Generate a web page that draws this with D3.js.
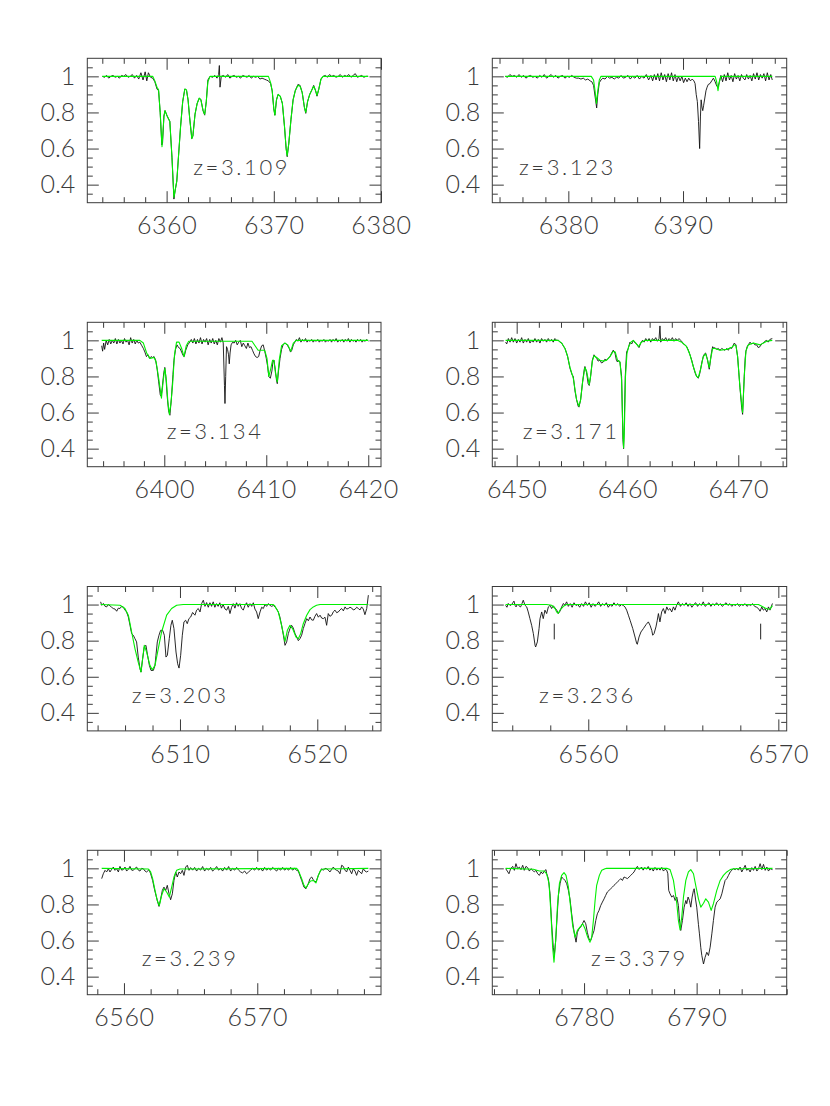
<!DOCTYPE html>
<html><head><meta charset="utf-8">
<script src="https://cdn.jsdelivr.net/npm/d3@7"></script>
<style>body{margin:0;background:#fff}</style>
</head><body>
<svg id="c" width="830" height="1106"></svg>
<script>
// ---------- data: observed spectra (black) and fitted models (green), [wavelength, normalised flux]
const spec1 = [[6354.0,1.00],[6354.2,0.995],[6354.4,1.005],[6354.6,0.99],[6354.8,1.0],[6355.0,1.005],[6355.2,0.995],[6355.4,1.0],[6355.6,0.99],[6355.8,1.005],[6356.0,1.0],[6356.2,1.01],[6356.4,0.995],[6356.6,1.0],[6356.8,1.01],[6357.0,0.99],[6357.2,1.005],[6357.4,0.985],[6357.6,1.02],[6357.8,0.98],[6358.0,1.025],[6358.15,0.975],[6358.3,1.02],[6358.5,0.995],[6358.7,0.99],
[6358.9,0.97],[6359.1,0.93],[6359.25,0.92],[6359.4,0.8],[6359.55,0.62],[6359.62,0.63],[6359.75,0.78],[6359.85,0.81],[6360.05,0.78],[6360.3,0.75],[6360.5,0.55],[6360.68,0.32],[6360.8,0.37],[6360.95,0.42],[6361.1,0.55],[6361.3,0.72],[6361.5,0.86],[6361.7,0.93],[6361.85,0.925],[6362.0,0.87],[6362.15,0.77],[6362.35,0.655],[6362.45,0.67],[6362.65,0.79],[6362.85,0.85],[6363.05,0.88],[6363.2,0.87],[6363.4,0.81],[6363.55,0.785],[6363.7,0.86],[6363.85,0.98],[6364.05,1.0],
[6364.3,0.995],[6364.5,1.005],[6364.7,0.99],[6364.85,1.01],[6364.92,1.06],[6364.98,0.94],[6365.1,1.0],[6365.3,1.005],[6365.5,0.995],[6365.7,1.01],[6365.9,0.99],[6366.1,1.0],[6366.3,1.005],[6366.5,0.995],[6366.7,1.0],[6366.9,0.99],[6367.1,1.005],[6367.3,1.0],[6367.5,0.995],[6367.7,1.005],[6367.9,0.99],[6368.1,1.0],[6368.3,0.995],[6368.5,1.0],[6368.7,0.985],[6368.9,0.99],[6369.1,0.985],[6369.3,0.98],
[6369.5,0.975],[6369.7,0.96],[6369.85,0.92],[6370.0,0.82],[6370.1,0.785],[6370.25,0.87],[6370.4,0.9],[6370.6,0.89],[6370.8,0.85],[6371.0,0.72],[6371.15,0.6],[6371.25,0.555],[6371.4,0.63],[6371.6,0.76],[6371.8,0.87],[6372.0,0.92],[6372.25,0.955],[6372.45,0.95],[6372.65,0.91],[6372.85,0.83],[6372.98,0.795],[6373.15,0.86],[6373.35,0.9],[6373.55,0.925],[6373.72,0.95],[6373.9,0.92],[6374.03,0.89],[6374.2,0.93],[6374.4,0.985],[6374.6,1.0],
[6374.8,1.005],[6375.0,0.995],[6375.2,1.01],[6375.4,1.0],[6375.6,1.005],[6375.8,0.995],[6376.0,1.0],[6376.2,1.01],[6376.4,0.995],[6376.6,1.005],[6376.8,1.0],[6377.0,1.01],[6377.2,0.995],[6377.4,1.005],[6377.6,1.015],[6377.8,0.995],[6378.0,1.0],[6378.2,1.005],[6378.4,0.995],[6378.6,1.0],[6378.8,1.0]];
const model1 = [[6354.0,1],[6358.7,1],[6358.9,0.975],[6359.1,0.94],[6359.25,0.925],[6359.4,0.8],[6359.57,0.61],[6359.75,0.78],[6359.85,0.81],[6360.05,0.78],[6360.3,0.75],[6360.5,0.55],[6360.68,0.33],[6360.8,0.37],[6360.95,0.42],[6361.1,0.55],[6361.3,0.72],[6361.5,0.86],[6361.7,0.93],[6361.85,0.925],[6362.0,0.87],[6362.15,0.77],[6362.35,0.655],[6362.45,0.67],[6362.65,0.79],[6362.85,0.85],[6363.05,0.88],[6363.2,0.87],[6363.4,0.81],[6363.55,0.79],[6363.7,0.86],[6363.85,0.97],[6364.05,1.0],[6369.5,1.0],[6369.7,0.965],[6369.85,0.92],[6370.0,0.82],[6370.1,0.785],[6370.25,0.87],[6370.4,0.9],[6370.6,0.89],[6370.8,0.85],[6371.0,0.72],[6371.15,0.6],[6371.25,0.56],[6371.4,0.63],[6371.6,0.76],[6371.8,0.87],[6372.0,0.92],[6372.25,0.95],[6372.45,0.945],[6372.65,0.91],[6372.85,0.83],[6372.98,0.80],[6373.15,0.86],[6373.35,0.9],[6373.55,0.925],[6373.72,0.945],[6373.9,0.92],[6374.03,0.895],[6374.2,0.93],[6374.4,0.985],[6374.6,1.0],[6378.8,1.0]];

const spec2 = [[6374.5,1.0],[6374.7,0.995],[6374.9,1.01],[6375.1,1.0],[6375.3,1.005],[6375.5,0.995],[6375.7,1.01],[6375.9,0.995],[6376.1,1.005],[6376.3,0.99],[6376.5,1.0],[6376.7,1.005],[6376.9,0.995],[6377.1,1.0],[6377.3,0.99],[6377.5,1.005],[6377.7,0.995],[6377.9,1.01],[6378.1,0.99],[6378.3,1.0],[6378.5,1.01],[6378.7,0.995],[6378.9,1.005],[6379.1,0.99],[6379.3,1.0],[6379.5,1.005],[6379.7,0.99],[6379.9,1.0],[6380.1,0.995],[6380.3,1.005],[6380.5,0.995],[6380.7,0.99],[6380.9,0.99],[6381.1,0.985],[6381.3,0.99],[6381.5,0.98],[6381.7,0.985],[6381.9,0.975],[6382.05,0.97],[6382.2,0.95],[6382.35,0.88],[6382.47,0.825],[6382.57,0.9],[6382.7,0.965],[6382.85,0.98],[6383.0,0.99],[6383.2,0.985],[6383.4,1.0],[6383.6,0.99],[6383.8,0.995],[6384.0,0.985],[6384.2,0.995],[6384.4,0.99],[6384.6,1.005],[6384.8,0.99],[6385.0,0.995],[6385.2,1.005],[6385.4,0.985],[6385.6,1.0],[6385.8,0.99],[6386.0,1.005],[6386.2,0.985],[6386.4,1.0],[6386.6,0.99],[6386.8,1.01],[6387.0,0.98],[6387.2,1.005],[6387.35,0.975],[6387.5,1.01],[6387.65,0.98],[6387.8,1.015],[6387.95,0.975],[6388.1,1.02],[6388.25,0.98],[6388.4,1.01],[6388.55,0.97],[6388.7,1.015],[6388.85,0.98],[6389.0,1.02],[6389.15,0.975],[6389.3,1.01],[6389.45,0.97],[6389.6,1.0],[6389.75,0.975],[6389.9,1.0],[6390.05,0.965],[6390.2,0.99],[6390.35,0.97],[6390.5,0.99],[6390.65,0.975],[6390.8,0.985],[6390.95,0.975],[6391.05,0.96],[6391.15,0.9],[6391.25,0.86],[6391.35,0.75],[6391.45,0.6],[6391.52,0.78],[6391.58,0.87],[6391.65,0.83],[6391.72,0.81],[6391.8,0.84],[6391.9,0.88],[6392.0,0.92],[6392.1,0.94],[6392.2,0.955],[6392.35,0.96],[6392.5,0.975],[6392.65,0.99],[6392.8,0.97],[6392.95,0.945],[6393.05,0.94],[6393.15,0.965],[6393.3,1.005],[6393.45,0.97],[6393.6,1.01],[6393.75,0.975],[6393.9,1.02],[6394.05,0.98],[6394.2,1.005],[6394.35,0.97],[6394.5,1.015],[6394.65,0.985],[6394.8,1.005],[6394.95,0.975],[6395.1,1.01],[6395.25,0.99],[6395.4,0.98],[6395.55,1.01],[6395.7,0.985],[6395.85,1.005],[6396.0,0.975],[6396.15,1.015],[6396.3,0.985],[6396.45,1.02],[6396.6,0.98],[6396.75,1.01],[6396.9,0.99],[6397.05,1.015],[6397.2,0.975],[6397.35,1.02],[6397.5,0.98],[6397.65,1.01],[6397.78,0.98]];
const model2 = [[6374.5,1],[6382.0,1],[6382.2,0.98],[6382.33,0.92],[6382.45,0.85],[6382.57,0.92],[6382.7,0.98],[6382.85,1],[6392.8,1],[6392.93,0.97],[6393.05,0.92],[6393.17,0.97],[6393.3,1],[6397.78,1]];

const spec3 = [[6393.86,0.97],[6393.95,0.94],[6394.05,0.985],[6394.15,0.95],[6394.3,1.0],[6394.45,0.975],[6394.6,1.005],[6394.75,0.98],[6394.9,1.0],[6395.05,0.985],[6395.2,1.01],[6395.35,0.98],[6395.5,1.005],[6395.65,0.985],[6395.8,1.0],[6395.95,0.98],[6396.1,1.01],[6396.25,0.99],[6396.4,1.0],[6396.55,0.975],[6396.7,1.015],[6396.85,0.985],[6397.0,1.005],[6397.15,0.98],[6397.3,1.0],[6397.45,0.985],[6397.6,0.99],[6397.8,0.97],[6397.95,0.955],[6398.1,0.935],[6398.25,0.91],[6398.4,0.92],[6398.55,0.9],[6398.7,0.91],[6398.85,0.905],[6399.0,0.91],[6399.15,0.89],[6399.3,0.84],[6399.45,0.77],[6399.6,0.70],[6399.7,0.69],[6399.82,0.75],[6399.95,0.82],[6400.05,0.85],[6400.15,0.8],[6400.3,0.68],[6400.42,0.61],[6400.55,0.585],[6400.7,0.68],[6400.85,0.81],[6400.95,0.89],[6401.1,0.95],[6401.25,0.975],[6401.4,0.96],[6401.55,0.955],[6401.7,0.935],[6401.85,0.915],[6401.95,0.91],[6402.1,0.945],[6402.3,0.975],[6402.5,0.99],
[6402.65,1.005],[6402.8,0.985],[6402.95,1.01],[6403.1,0.98],[6403.25,1.005],[6403.4,0.985],[6403.55,1.015],[6403.7,0.98],[6403.85,1.005],[6404.0,0.99],[6404.15,1.01],[6404.3,0.975],[6404.45,1.005],[6404.6,0.985],[6404.75,1.01],[6404.9,0.98],[6405.05,1.0],[6405.2,0.975],[6405.35,1.01],[6405.5,0.99],[6405.65,1.015],[6405.78,0.985],[6405.9,0.75],[6405.95,0.65],[6406.02,0.8],[6406.1,0.965],[6406.2,0.95],[6406.3,0.92],[6406.37,0.87],[6406.45,0.93],[6406.55,0.975],[6406.7,0.99],[6406.85,0.985],[6407.0,1.0],[6407.15,0.975],[6407.3,0.99],[6407.45,1.0],[6407.6,0.965],[6407.75,0.985],[6407.9,0.97],[6408.05,0.955],[6408.2,0.985],[6408.35,0.96],[6408.5,0.965],[6408.65,0.945],[6408.8,0.925],[6408.95,0.91],[6409.1,0.905],[6409.25,0.91],[6409.4,0.945],[6409.55,0.97],[6409.7,0.975],[6409.85,0.94],[6410.0,0.9],[6410.12,0.86],[6410.25,0.8],[6410.4,0.79],[6410.55,0.83],[6410.65,0.88],[6410.75,0.89],[6410.88,0.84],[6411.0,0.78],[6411.08,0.76],[6411.2,0.83],[6411.35,0.9],[6411.5,0.95],[6411.65,0.975],[6411.8,0.985],[6411.95,0.98],[6412.1,0.97],[6412.25,0.955],[6412.38,0.935],[6412.5,0.945],[6412.65,0.975],[6412.8,0.99],[6412.95,1.005],
[6413.1,0.995],[6413.25,1.015],[6413.4,0.99],[6413.55,1.005],[6413.7,0.995],[6413.85,1.01],[6414.0,0.99],[6414.15,1.0],[6414.3,0.995],[6414.45,1.005],[6414.6,0.99],[6414.75,1.0],[6414.9,0.995],[6415.05,1.005],[6415.2,0.99],[6415.35,1.0],[6415.5,0.995],[6415.65,1.005],[6415.8,0.99],[6415.95,1.0],[6416.1,0.995],[6416.25,1.005],[6416.4,0.99],[6416.55,1.005],[6416.7,0.995],[6416.85,1.01],[6417.0,0.99],[6417.15,1.0],[6417.3,0.995],[6417.45,1.005],[6417.6,0.99],[6417.75,1.005],[6417.9,0.995],[6418.05,1.01],[6418.2,0.99],[6418.35,1.005],[6418.5,0.995],[6418.65,1.0],[6418.8,0.99],[6418.95,1.005],[6419.1,0.995],[6419.25,1.005],[6419.4,0.99],[6419.55,1.0],[6419.7,0.995],[6419.85,1.005],[6420.0,0.995]];
const model3 = [[6393.86,1.0],[6397.6,1.0],[6397.95,0.985],[6398.27,0.93],[6398.6,0.9],[6399.0,0.905],[6399.2,0.88],[6399.45,0.79],[6399.72,0.68],[6399.9,0.78],[6400.05,0.845],[6400.2,0.78],[6400.35,0.66],[6400.5,0.59],[6400.65,0.65],[6400.82,0.76],[6401.0,0.92],[6401.2,0.99],[6401.45,0.99],[6401.7,0.955],[6401.93,0.91],[6402.15,0.97],[6402.4,0.995],[6408.6,0.995],[6408.9,0.97],[6409.2,0.945],[6409.85,0.945],[6410.07,0.9],[6410.25,0.8],[6410.45,0.845],[6410.62,0.89],[6410.75,0.89],[6410.9,0.82],[6411.08,0.77],[6411.27,0.89],[6411.5,0.97],[6411.83,0.985],[6412.1,0.975],[6412.4,0.94],[6412.65,0.985],[6412.95,1.0],[6420.0,1.0]];

const spec4 = [[6449.0,0.99],[6449.1,0.98],[6449.25,1.01],[6449.4,0.99],[6449.55,1.015],[6449.7,0.99],[6449.85,1.01],[6450.0,0.985],[6450.15,1.005],[6450.3,0.99],[6450.45,1.015],[6450.6,0.985],[6450.75,1.005],[6450.9,0.99],[6451.05,1.01],[6451.2,0.985],[6451.35,1.0],[6451.5,0.99],[6451.65,1.01],[6451.8,0.99],[6451.95,1.005],[6452.1,0.985],[6452.25,1.01],[6452.4,0.995],[6452.55,1.005],[6452.7,0.99],[6452.85,1.01],[6453.0,0.995],[6453.15,1.005],[6453.3,0.99],[6453.45,1.01],[6453.6,1.0],[6453.76,1.0],[6453.9,0.99],[6454.06,0.985],[6454.2,0.97],[6454.36,0.955],[6454.5,0.93],[6454.6,0.91],[6454.81,0.845],[6455.0,0.81],[6455.11,0.80],[6455.26,0.72],[6455.41,0.67],[6455.55,0.635],[6455.62,0.63],[6455.77,0.67],[6455.95,0.77],[6456.1,0.84],[6456.16,0.855],[6456.31,0.82],[6456.45,0.76],[6456.55,0.75],[6456.67,0.8],[6456.83,0.89],[6456.98,0.92],[6457.1,0.91],[6457.22,0.9],[6457.35,0.885],[6457.52,0.89],[6457.65,0.875],[6457.82,0.88],[6457.95,0.895],[6458.12,0.89],[6458.25,0.9],[6458.42,0.91],[6458.57,0.93],[6458.72,0.946],[6458.87,0.93],[6459.0,0.89],[6459.1,0.88],[6459.2,0.89],[6459.32,0.88],[6459.47,0.8],[6459.59,0.45],[6459.65,0.40],[6459.71,0.53],[6459.8,0.8],[6459.92,0.935],[6460.07,0.955],[6460.22,0.99],[6460.38,0.98],[6460.53,1.0],[6460.7,0.985],[6460.83,0.98],[6461.04,0.96],[6461.2,0.985],[6461.35,1.0],[6461.5,0.99],[6461.65,1.01],[6461.8,0.995],[6461.95,1.01],[6462.1,0.99],[6462.25,1.01],[6462.4,1.0],[6462.55,1.015],[6462.7,0.995],[6462.85,1.01],[6462.93,1.08],[6463.0,0.99],[6463.15,1.01],[6463.3,1.0],[6463.45,1.015],[6463.6,0.995],[6463.75,1.01],[6463.9,1.0],[6464.05,1.015],[6464.2,0.995],[6464.35,1.01],[6464.5,1.0],[6464.65,1.01],[6464.8,1.0],[6464.95,0.99],[6465.04,0.98],[6465.2,0.975],[6465.34,0.965],[6465.5,0.945],[6465.64,0.92],[6465.8,0.89],[6465.94,0.855],[6466.1,0.82],[6466.24,0.80],[6466.39,0.79],[6466.5,0.81],[6466.6,0.84],[6466.72,0.88],[6466.84,0.91],[6466.95,0.925],[6467.05,0.93],[6467.15,0.91],[6467.23,0.89],[6467.3,0.865],[6467.38,0.84],[6467.45,0.87],[6467.51,0.9],[6467.6,0.94],[6467.69,0.965],[6467.8,0.955],[6467.9,0.96],[6468.05,0.95],[6468.2,0.955],[6468.35,0.945],[6468.5,0.955],[6468.65,0.95],[6468.8,0.945],[6468.95,0.955],[6469.1,0.945],[6469.25,0.96],[6469.4,0.955],[6469.52,0.97],[6469.64,0.985],[6469.79,0.975],[6469.94,0.91],[6470.05,0.82],[6470.15,0.74],[6470.3,0.63],[6470.39,0.59],[6470.47,0.7],[6470.54,0.8],[6470.62,0.9],[6470.69,0.94],[6470.8,0.965],[6470.9,0.975],[6471.06,0.99],[6471.2,0.98],[6471.36,0.985],[6471.5,0.975],[6471.66,0.975],[6471.8,0.96],[6471.96,0.965],[6472.1,0.98],[6472.26,0.985],[6472.4,0.995],[6472.56,1.0],[6472.7,0.99],[6472.85,1.005],[6473.07,1.01]];
const model4 = [[6449.0,1.0],[6453.76,1.0],[6454.06,0.985],[6454.36,0.955],[6454.6,0.91],[6454.81,0.85],[6455.11,0.79],[6455.41,0.67],[6455.62,0.635],[6455.77,0.67],[6455.95,0.77],[6456.16,0.85],[6456.31,0.83],[6456.55,0.755],[6456.67,0.8],[6456.83,0.885],[6456.98,0.915],[6457.22,0.905],[6457.52,0.89],[6457.82,0.885],[6458.12,0.89],[6458.42,0.91],[6458.72,0.94],[6458.9,0.935],[6459.1,0.89],[6459.32,0.88],[6459.47,0.78],[6459.58,0.5],[6459.65,0.405],[6459.72,0.5],[6459.82,0.8],[6459.95,0.925],[6460.1,0.965],[6460.3,0.99],[6460.53,1.0],[6460.75,0.985],[6461.0,0.965],[6461.25,0.99],[6461.6,1.0],[6464.5,1.0],[6464.9,0.99],[6465.34,0.965],[6465.64,0.92],[6465.94,0.855],[6466.24,0.80],[6466.39,0.795],[6466.6,0.84],[6466.84,0.91],[6467.05,0.925],[6467.23,0.89],[6467.38,0.85],[6467.51,0.9],[6467.69,0.955],[6467.9,0.955],[6468.35,0.945],[6468.95,0.95],[6469.4,0.96],[6469.64,0.975],[6469.79,0.97],[6469.94,0.91],[6470.15,0.74],[6470.39,0.6],[6470.54,0.8],[6470.69,0.94],[6470.9,0.975],[6471.36,0.985],[6471.96,0.975],[6472.56,0.995],[6473.07,1.0]];

const spec5 = [[6504.22,1.015],[6504.3,0.996],[6504.42,1.006],[6504.55,0.99],[6504.66,0.987],[6504.78,1.0],[6504.9,0.993],[6505.02,0.985],[6505.14,0.978],[6505.27,0.975],[6505.39,0.963],[6505.51,0.98],[6505.63,0.978],[6505.75,0.99],[6505.87,0.987],[6505.99,0.97],[6506.11,0.959],[6506.24,0.931],[6506.36,0.885],[6506.48,0.839],[6506.6,0.83],[6506.72,0.811],[6506.84,0.793],[6506.96,0.709],[6507.09,0.644],[6507.16,0.626],[6507.28,0.70],[6507.4,0.765],[6507.52,0.774],[6507.64,0.719],[6507.77,0.663],[6507.89,0.635],[6508.06,0.635],[6508.18,0.663],[6508.25,0.719],[6508.35,0.793],[6508.47,0.83],[6508.59,0.857],[6508.74,0.857],[6508.86,0.83],[6508.98,0.709],[6509.08,0.719],[6509.22,0.811],[6509.34,0.885],[6509.44,0.913],[6509.56,0.867],[6509.71,0.737],[6509.83,0.672],[6509.93,0.648],[6510.05,0.719],[6510.17,0.83],[6510.29,0.904],[6510.41,0.913],[6510.53,0.894],[6510.65,0.922],[6510.78,0.931],[6510.92,0.956],[6511.09,0.941],[6511.21,0.969],[6511.33,0.978],[6511.46,0.959],[6511.58,1.006],[6511.7,1.024],[6511.82,0.99],[6511.94,1.011],
[6512.06,0.985],[6512.18,1.01],[6512.3,0.99],[6512.42,1.015],[6512.54,0.985],[6512.66,1.005],[6512.78,0.99],[6512.9,1.01],[6513.02,0.98],[6513.14,1.0],[6513.28,0.975],[6513.4,0.969],[6513.52,0.99],[6513.64,0.95],[6513.76,0.985],[6513.88,1.005],[6514.0,0.98],[6514.12,1.01],[6514.24,0.99],[6514.36,1.005],[6514.48,0.98],[6514.61,0.969],[6514.73,0.995],[6514.85,1.01],[6514.97,0.985],[6515.1,1.005],[6515.22,0.99],[6515.34,1.01],[6515.46,0.975],[6515.58,0.959],[6515.7,0.922],[6515.83,0.959],[6515.95,0.985],[6516.07,0.978],[6516.19,1.0],[6516.31,0.99],[6516.43,1.005],[6516.55,0.996],[6516.67,0.99],[6516.8,0.995],
[6516.92,0.987],[6517.04,0.975],[6517.16,0.959],[6517.28,0.93],[6517.4,0.885],[6517.53,0.83],[6517.65,0.774],[6517.77,0.793],[6517.89,0.839],[6518.01,0.867],[6518.13,0.885],[6518.25,0.87],[6518.38,0.839],[6518.5,0.82],[6518.62,0.80],[6518.74,0.811],[6518.86,0.83],[6518.98,0.867],[6519.1,0.894],[6519.23,0.922],[6519.35,0.91],[6519.47,0.931],[6519.59,0.915],[6519.71,0.913],[6519.83,0.935],[6519.95,0.95],[6520.08,0.93],[6520.2,0.941],[6520.32,0.925],[6520.44,0.922],[6520.56,0.93],[6520.68,0.885],[6520.8,0.95],[6520.92,0.935],[6521.05,0.941],[6521.17,0.96],[6521.29,0.969],[6521.41,0.955],[6521.53,0.959],[6521.65,0.97],[6521.77,0.978],[6521.9,0.965],[6522.02,0.987],[6522.14,0.975],[6522.26,0.978],[6522.38,0.985],[6522.5,0.981],[6522.62,0.97],[6522.75,0.974],[6522.87,0.985],[6522.99,0.978],[6523.11,0.97],[6523.23,0.987],[6523.35,0.975],[6523.47,0.944],[6523.6,0.978],[6523.72,1.052]];
const model5 = [[6504.22,1.0],[6505.63,0.996],[6505.99,0.978],[6506.24,0.941],[6506.48,0.848],[6506.72,0.756],[6506.96,0.681],[6507.16,0.626],[6507.28,0.70],[6507.4,0.774],[6507.57,0.737],[6507.81,0.663],[6507.98,0.639],[6508.18,0.663],[6508.42,0.756],[6508.66,0.848],[6509.03,0.941],[6509.39,0.978],[6509.76,0.996],[6510.24,1.0],[6516.8,1.0],[6516.92,0.991],[6517.16,0.959],[6517.4,0.885],[6517.65,0.796],[6517.82,0.857],[6518.01,0.885],[6518.2,0.867],[6518.45,0.82],[6518.62,0.811],[6518.79,0.839],[6518.98,0.894],[6519.23,0.941],[6519.47,0.972],[6519.71,0.987],[6519.95,0.996],[6520.2,1.0],[6523.72,1.0]];

const spec6 = [[6555.65,0.996],[6555.72,0.985],[6555.79,1.006],[6555.88,0.995],[6555.97,1.0],[6556.03,1.01],[6556.09,1.019],[6556.15,0.995],[6556.2,0.987],[6556.26,1.0],[6556.32,1.0],[6556.38,0.99],[6556.44,0.987],[6556.51,1.005],[6556.58,1.024],[6556.67,0.996],[6556.76,0.987],[6556.84,0.959],[6556.93,0.922],[6557.02,0.885],[6557.11,0.839],[6557.2,0.774],[6557.23,0.765],[6557.32,0.793],[6557.41,0.867],[6557.46,0.922],[6557.55,0.959],[6557.63,0.922],[6557.72,0.969],[6557.81,0.95],[6557.9,0.987],[6557.99,0.996],[6558.07,0.978],[6558.16,0.993],[6558.25,0.981],[6558.34,0.969],[6558.42,0.95],[6558.51,0.963],[6558.6,0.987],[6558.69,1.006],[6558.77,0.996],[6558.86,1.015],
[6558.95,0.99],[6559.05,1.005],[6559.15,0.985],[6559.25,1.01],[6559.35,0.995],[6559.45,1.0],[6559.55,0.985],[6559.65,1.005],[6559.75,0.99],[6559.85,1.015],[6559.95,0.995],[6560.05,1.01],[6560.15,0.985],[6560.25,1.005],[6560.35,0.99],[6560.45,1.0],[6560.55,1.015],[6560.65,0.99],[6560.75,1.005],[6560.85,0.995],[6560.95,1.01],[6561.05,0.985],[6561.15,1.0],[6561.25,0.99],[6561.35,1.01],[6561.45,0.995],[6561.55,1.005],[6561.65,0.99],[6561.75,1.0],[6561.84,0.995],
[6561.93,0.987],[6562.02,0.969],[6562.11,0.941],[6562.2,0.913],[6562.34,0.867],[6562.46,0.82],[6562.55,0.783],[6562.58,0.78],[6562.67,0.82],[6562.77,0.848],[6562.9,0.867],[6563.04,0.889],[6563.16,0.904],[6563.25,0.885],[6563.34,0.857],[6563.39,0.83],[6563.46,0.839],[6563.56,0.876],[6563.63,0.913],[6563.69,0.95],[6563.77,0.904],[6563.86,0.959],[6563.95,0.978],[6564.04,0.95],[6564.13,0.987],[6564.21,0.969],[6564.3,0.978],[6564.39,0.959],[6564.48,0.987],[6564.56,0.969],[6564.65,0.996],[6564.74,1.015],
[6564.85,0.99],[6564.95,1.005],[6565.05,0.995],[6565.15,1.01],[6565.25,0.99],[6565.35,1.005],[6565.45,0.985],[6565.55,1.0],[6565.65,1.01],[6565.75,0.99],[6565.85,1.005],[6565.95,0.995],[6566.05,1.015],[6566.15,0.99],[6566.25,1.0],[6566.35,1.01],[6566.45,0.99],[6566.55,1.005],[6566.65,0.995],[6566.75,1.01],[6566.85,0.995],[6566.95,1.005],[6567.05,0.99],[6567.15,1.0],[6567.25,1.01],[6567.35,0.995],[6567.45,1.005],[6567.55,0.99],[6567.65,1.0],[6567.75,0.995],[6567.85,1.005],[6567.95,0.99],[6568.05,1.0],[6568.15,0.995],[6568.25,1.005],[6568.35,0.99],[6568.45,1.0],[6568.55,0.995],[6568.65,1.005],[6568.75,0.99],[6568.86,0.985],
[6568.95,0.978],[6569.04,0.963],[6569.13,0.987],[6569.21,0.969],[6569.3,0.978],[6569.39,0.959],[6569.48,0.987],[6569.56,0.969],[6569.69,1.006]];
const model6 = [[6555.65,1.0],[6557.81,1.0],[6558.07,0.996],[6558.25,0.978],[6558.34,0.958],[6558.42,0.952],[6558.51,0.969],[6558.69,0.99],[6558.86,1.0],[6568.95,1.0],[6569.13,0.99],[6569.3,0.981],[6569.45,0.975],[6569.56,0.974],[6569.69,0.994]];
const markers6 = [6558.21, 6569.07];
const markerSpan = [0.807, 0.894];

const spec7 = [[6558.33,0.943],[6558.45,0.97],[6558.58,0.989],[6558.7,0.98],[6558.83,0.998],[6558.95,0.98],[6559.08,0.995],[6559.2,1.007],[6559.33,0.989],[6559.45,0.998],[6559.58,0.98],[6559.7,1.011],[6559.83,0.99],[6559.95,0.993],[6560.08,1.007],[6560.2,0.985],[6560.33,0.995],[6560.45,1.011],[6560.58,0.99],[6560.7,0.989],[6560.83,1.0],[6560.95,1.007],[6561.08,0.99],[6561.2,0.985],[6561.33,1.0],[6561.45,0.998],[6561.58,0.985],[6561.7,0.98],[6561.88,0.993],[6562.0,0.97],[6562.15,0.933],[6562.28,0.887],[6562.4,0.85],[6562.53,0.813],[6562.63,0.789],[6562.75,0.831],[6562.88,0.878],[6563.0,0.896],[6563.13,0.878],[6563.25,0.906],[6563.38,0.859],[6563.5,0.826],[6563.63,0.859],[6563.75,0.933],[6563.88,0.98],[6564.0,0.952],[6564.13,0.98],[6564.25,0.97],[6564.38,0.989],[6564.5,0.961],[6564.63,1.007],[6564.75,1.017],[6564.88,0.989],[6565.0,1.004],
[6565.15,0.99],[6565.3,1.005],[6565.45,0.985],[6565.6,1.0],[6565.75,0.99],[6565.9,1.01],[6566.05,0.985],[6566.2,1.0],[6566.35,0.99],[6566.5,1.005],[6566.65,0.985],[6566.8,0.995],[6566.95,1.01],[6567.1,0.99],[6567.25,1.0],[6567.4,0.985],[6567.55,1.005],[6567.7,0.99],[6567.85,1.01],[6568.0,0.985],[6568.15,1.0],[6568.3,0.99],[6568.45,1.005],[6568.6,0.99],[6568.75,0.98],[6568.9,0.975],[6569.05,0.985],[6569.2,0.97],[6569.35,0.98],[6569.5,0.99],[6569.65,1.0],[6569.8,0.99],[6569.95,1.005],[6570.1,0.99],[6570.25,1.0],[6570.4,0.985],[6570.55,1.005],[6570.7,0.99],[6570.85,1.0],[6571.0,0.99],[6571.15,1.005],[6571.3,0.995],[6571.45,0.985],[6571.6,1.0],[6571.75,0.99],[6571.9,1.005],[6572.05,0.99],[6572.2,1.0],[6572.35,0.99],[6572.5,1.005],[6572.65,0.99],[6572.8,1.0],[6572.95,0.989],
[6573.08,0.985],[6573.15,0.97],[6573.33,0.933],[6573.5,0.896],[6573.65,0.887],[6573.83,0.915],[6573.95,0.943],[6574.08,0.952],[6574.2,0.937],[6574.33,0.924],[6574.45,0.933],[6574.58,0.961],[6574.7,0.98],[6574.83,0.998],[6574.95,0.989],[6575.08,1.0],[6575.2,0.998],[6575.33,0.99],[6575.45,0.98],[6575.58,0.995],[6575.7,1.007],[6575.83,0.995],[6575.95,0.989],[6576.08,0.985],[6576.2,0.97],[6576.33,1.017],[6576.45,1.011],[6576.58,0.99],[6576.7,0.98],[6576.83,1.007],[6576.95,0.99],[6577.08,0.97],[6577.2,0.998],[6577.33,0.985],[6577.45,0.961],[6577.58,0.989],[6577.7,0.98],[6577.83,0.97],[6577.95,0.998],[6578.08,0.985],[6578.2,0.98],[6578.33,0.985]];
const model7 = [[6558.33,1.0],[6561.83,0.996],[6562.0,0.98],[6562.15,0.943],[6562.33,0.878],[6562.5,0.822],[6562.65,0.794],[6562.83,0.85],[6563.0,0.887],[6563.2,0.869],[6563.4,0.841],[6563.58,0.896],[6563.75,0.952],[6563.95,0.989],[6564.2,0.996],[6572.95,1.0],[6573.08,0.989],[6573.33,0.943],[6573.5,0.906],[6573.65,0.891],[6573.83,0.915],[6574.0,0.93],[6574.2,0.933],[6574.4,0.919],[6574.58,0.961],[6574.75,0.989],[6574.95,0.996],[6578.33,1.0]];

const spec8 = [[6773.04,0.998],[6773.18,0.985],[6773.33,0.97],[6773.48,0.998],[6773.66,1.011],[6773.81,0.989],[6773.95,1.026],[6774.1,0.998],[6774.25,1.007],[6774.4,0.993],[6774.55,1.017],[6774.69,0.989],[6774.84,1.011],[6774.99,1.004],[6775.14,0.985],[6775.29,0.998],[6775.44,0.989],[6775.58,0.98],[6775.73,0.989],[6775.88,0.97],[6776.03,0.961],[6776.18,0.98],[6776.32,0.97],[6776.47,0.985],[6776.62,0.993],[6776.68,0.97],[6776.83,0.943],[6776.98,0.859],[6777.12,0.693],[6777.27,0.56],[6777.36,0.52],[6777.48,0.6],[6777.57,0.693],[6777.72,0.85],[6777.87,0.915],[6778.01,0.952],[6778.16,0.943],[6778.31,0.933],[6778.46,0.915],[6778.61,0.878],[6778.75,0.831],[6778.9,0.748],[6779.05,0.674],[6779.2,0.619],[6779.29,0.591],[6779.41,0.646],[6779.55,0.665],[6779.7,0.674],[6779.85,0.693],[6780.0,0.711],[6780.15,0.693],[6780.29,0.646],[6780.44,0.609],[6780.59,0.6],[6780.74,0.628],[6780.89,0.656],[6781.04,0.711],[6781.18,0.748],[6781.33,0.767],[6781.48,0.794],[6781.63,0.813],[6781.78,0.831],[6781.92,0.85],[6782.07,0.869],[6782.22,0.878],[6782.37,0.887],[6782.52,0.896],[6782.66,0.906],[6782.81,0.915],[6782.96,0.924],[6783.11,0.933],[6783.26,0.943],[6783.41,0.933],[6783.55,0.952],[6783.7,0.948],[6783.85,0.943],[6784.0,0.952],[6784.15,0.961],[6784.29,0.97],[6784.44,0.98],[6784.59,0.998],[6784.74,1.011],[6784.86,0.995],[6784.98,0.998],[6785.1,1.007],
[6785.25,0.99],[6785.4,1.005],[6785.55,0.995],[6785.7,1.01],[6785.85,0.99],[6786.0,1.0],[6786.15,0.985],[6786.3,1.005],[6786.46,0.99],[6786.6,1.0],[6786.75,0.99],[6786.9,1.005],[6787.05,0.985],[6787.2,0.995],[6787.35,0.989],
[6787.44,0.97],[6787.52,0.878],[6787.64,0.859],[6787.79,0.841],[6787.94,0.85],[6788.09,0.822],[6788.24,0.841],[6788.38,0.794],[6788.47,0.72],[6788.59,0.656],[6788.74,0.711],[6788.89,0.785],[6789.04,0.822],[6789.12,0.804],[6789.24,0.841],[6789.36,0.822],[6789.48,0.785],[6789.6,0.841],[6789.72,0.878],[6789.78,0.887],[6789.9,0.83],[6790.01,0.785],[6790.16,0.69],[6790.25,0.637],[6790.37,0.56],[6790.46,0.517],[6790.61,0.47],[6790.75,0.507],[6790.9,0.535],[6791.05,0.517],[6791.2,0.563],[6791.35,0.637],[6791.49,0.711],[6791.64,0.785],[6791.79,0.813],[6791.94,0.822],[6792.09,0.831],[6792.24,0.859],[6792.38,0.896],[6792.53,0.933],[6792.68,0.943],[6792.83,0.961],[6792.98,0.98],[6793.13,0.989],[6793.27,0.998],[6793.42,0.993],
[6793.56,1.0],[6793.71,0.99],[6793.86,1.007],[6794.01,0.98],[6794.16,0.998],[6794.31,1.017],[6794.45,0.989],[6794.6,0.998],[6794.75,0.98],[6794.9,1.004],[6795.05,0.989],[6795.2,1.011],[6795.35,0.985],[6795.5,0.998],[6795.64,1.026],[6795.79,0.993],[6795.94,1.022],[6796.09,0.989],[6796.24,1.007],[6796.38,0.985],[6796.53,0.998],[6796.74,0.993]];
const model8 = [[6773.04,1.0],[6775.5,0.995],[6776.03,0.985],[6776.47,0.985],[6776.68,0.97],[6776.89,0.915],[6777.06,0.748],[6777.21,0.563],[6777.33,0.48],[6777.48,0.6],[6777.63,0.785],[6777.81,0.915],[6778.01,0.961],[6778.22,0.976],[6778.4,0.961],[6778.61,0.896],[6778.81,0.785],[6778.99,0.683],[6779.2,0.619],[6779.41,0.656],[6779.64,0.674],[6779.88,0.693],[6780.09,0.665],[6780.32,0.619],[6780.53,0.591],[6780.68,0.619],[6780.83,0.711],[6780.98,0.822],[6781.12,0.906],[6781.36,0.961],[6781.57,0.989],[6781.86,0.998],[6782.0,1.0],[6787.35,1.0],[6787.64,0.993],[6787.94,0.933],[6788.24,0.804],[6788.38,0.711],[6788.53,0.659],[6788.68,0.73],[6788.83,0.841],[6789.04,0.933],[6789.27,0.98],[6789.48,0.993],[6789.72,0.97],[6789.95,0.896],[6790.16,0.831],[6790.37,0.785],[6790.61,0.807],[6790.81,0.831],[6791.05,0.813],[6791.29,0.767],[6791.49,0.804],[6791.79,0.878],[6792.09,0.933],[6792.38,0.961],[6792.68,0.98],[6792.98,0.993],[6793.27,0.998],[6796.74,1.0]];

// panel axes / labels
const xDomains = [[6352.6,6380.0],[6373.37,6399.04],[6392.45,6421.25],[6447.8,6474.37],[6503.25,6524.64],[6554.95,6570.44],[6557.25,6579.28],[6771.85,6798.0]];
const yDomain = [0.3, 1.1];
const zLabels = ["z=3.109","z=3.123","z=3.134","z=3.171","z=3.203","z=3.236","z=3.239","z=3.379"];
const zLabelAt = [[6362.48,0.453],[6375.70,0.453],[6400.23,0.452],[6450.54,0.452],[6506.48,0.453],[6557.41,0.453],[6561.33,0.459],[6780.62,0.459]];
const yMajor = [0.4, 0.6, 0.8, 1];
const yMinor = [0.35, 0.45, 0.5, 0.55, 0.65, 0.7, 0.75, 0.85, 0.9, 0.95, 1.05];
const spectra = [spec1,spec2,spec3,spec4,spec5,spec6,spec7,spec8];
const models = [model1,model2,model3,model4,model5,model6,model7,model8];

// ---------- layout
const colX = [[87.3,381.0],[492.3,786.7]];
const rowTop = [58.3,322.3,586.5,850.3];
const panelH = 144.4;
const MAJ = 11.5, MIN = 5.5;
const FONT = "Lato, 'Liberation Sans', 'DejaVu Sans', sans-serif";
const ink = "#3a3a3a";

const svg = d3.select("#c");
svg.append("rect").attr("width",830).attr("height",1106).attr("fill","#fff");

spectra.forEach((spec, i) => {
  const col = i % 2, row = Math.floor(i / 2);
  const x = d3.scaleLinear().domain(xDomains[i]).range(colX[col]);
  const y = d3.scaleLinear().domain(yDomain).range([rowTop[row] + panelH, rowTop[row]]);
  const g = svg.append("g");
  const [a, b] = xDomains[i];
  const xMaj = d3.range(Math.ceil(a / 10) * 10, b + 1e-6, 10);
  const xMin = d3.range(Math.ceil(a / 2) * 2, b + 1e-6, 2).filter(v => v % 10 !== 0);
  const top = rowTop[row], bot = rowTop[row] + panelH;
  const L = colX[col][0], R = colX[col][1];

  const line = d3.line().x(d => x(d[0])).y(d => y(d[1]));
  g.append("path").datum(spec).attr("d", line).attr("fill","none")
    .attr("stroke","#111").attr("stroke-width",0.9).attr("stroke-linejoin","round");
  g.append("path").datum(models[i]).attr("d", line).attr("fill","none")
    .attr("stroke","#00f000").attr("stroke-width",1.1).attr("stroke-linejoin","round");

  if (i === 5) {
    markers6.forEach(m => {
      g.append("line").attr("x1", x(m)).attr("x2", x(m))
        .attr("y1", y(markerSpan[0])).attr("y2", y(markerSpan[1]))
        .attr("stroke","#222").attr("stroke-width",1);
    });
  }

  // frame
  g.append("rect").attr("x", L).attr("y", top).attr("width", R - L).attr("height", panelH)
    .attr("fill","none").attr("stroke", ink).attr("stroke-width",1);

  const tickAxis = (axisFn, scale, vals, size, tx, ty) => {
    const ax = g.append("g").attr("transform", `translate(${tx},${ty})`)
      .call(axisFn(scale).tickValues(vals).tickSize(-size).tickSizeOuter(0).tickFormat(""));
    ax.select(".domain").remove();
    ax.selectAll("line").attr("stroke", ink).attr("stroke-width",1);
  };
  tickAxis(d3.axisBottom, x, xMaj, MAJ, 0, bot);
  tickAxis(d3.axisBottom, x, xMin, MIN, 0, bot);
  tickAxis(d3.axisTop, x, xMaj, MAJ, 0, top);
  tickAxis(d3.axisTop, x, xMin, MIN, 0, top);
  tickAxis(d3.axisLeft, y, yMajor, MAJ, L, 0);
  tickAxis(d3.axisLeft, y, yMinor, MIN, L, 0);
  tickAxis(d3.axisRight, y, yMajor, MAJ, R, 0);
  tickAxis(d3.axisRight, y, yMinor, MIN, R, 0);

  // labels
  const xl = g.append("g").attr("transform", `translate(0,${bot})`)
    .call(d3.axisBottom(x).tickValues(xMaj).tickSize(0).tickPadding(14).tickFormat(d3.format("d")));
  xl.select(".domain").remove();
  xl.selectAll("text").attr("font-family", FONT).attr("font-weight",300).attr("font-size",25)
    .attr("letter-spacing",0.6).attr("fill", ink);

  const yl = g.append("g").attr("transform", `translate(${L},0)`)
    .call(d3.axisLeft(y).tickValues(yMajor).tickSize(0).tickPadding(12).tickFormat(d => d === 1 ? "1" : d.toFixed(1)));
  yl.select(".domain").remove();
  yl.selectAll("text").attr("font-family", FONT).attr("font-weight",300).attr("font-size",25).attr("fill", ink);

  g.append("text").attr("x", x(zLabelAt[i][0])).attr("y", y(zLabelAt[i][1]))
    .attr("font-family", FONT).attr("font-weight",300).attr("font-size",22)
    .attr("letter-spacing",2.6).attr("fill", ink)
    .text(zLabels[i]);
});
</script>
</body></html>
